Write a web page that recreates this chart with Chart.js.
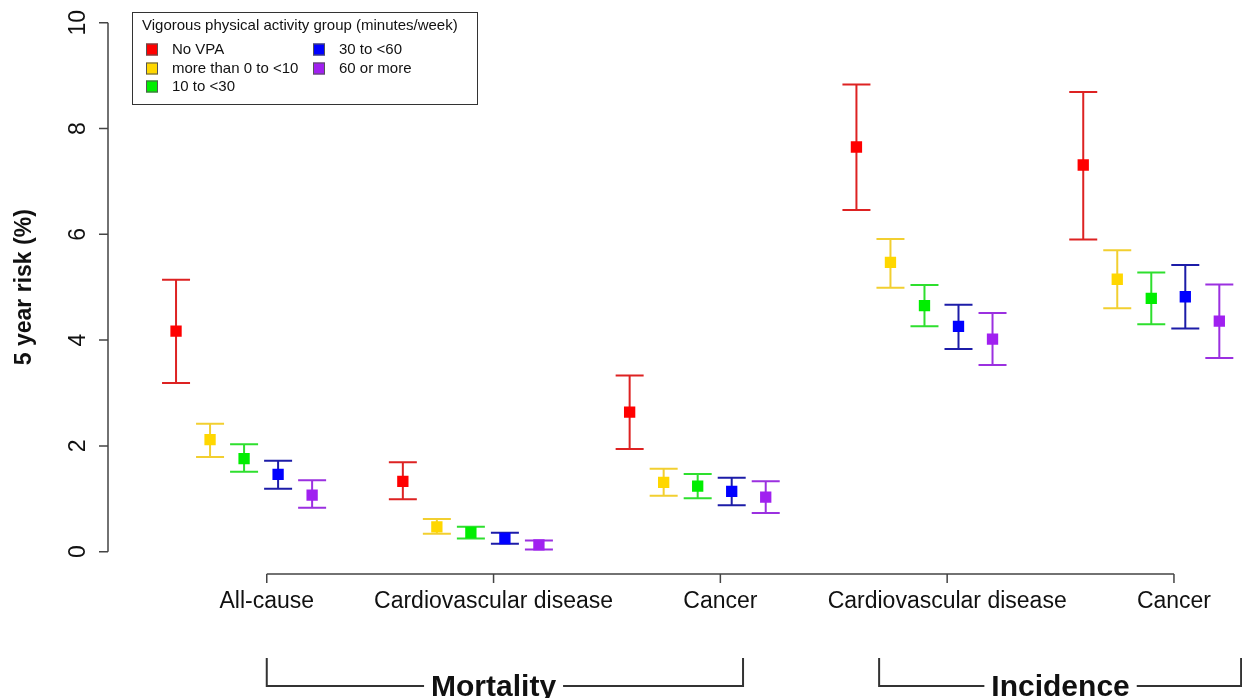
<!DOCTYPE html>
<html>
<head>
<meta charset="utf-8">
<title>5 year risk by vigorous physical activity group</title>
<script src="https://cdn.jsdelivr.net/npm/chart.js@4.4.1/dist/chart.umd.min.js"></script>
<style>
    html, body { margin: 0; padding: 0; background: #fff; }
    #risk { display: block; }
</style>
</head>
<body>
<canvas id="risk" width="1242" height="698"></canvas>
<script>
const causes = ['All-cause', 'Cardiovascular disease', 'Cancer', 'Cardiovascular disease', 'Cancer']
const outcomes = ['Mortality', 'Incidence']
const vpaGroups = ['No VPA', 'more than 0 to <10', '10 to <30', '30 to <60', '60 or more']
const yTicks = [0, 2, 4, 6, 8, 10]

// one row per VPA group, one value per cause (same order as causes)
const riskEstimate = [
    [4.17, 1.33, 2.64, 7.65, 7.31],
    [2.12, 0.47, 1.31, 5.47, 5.15],
    [1.76, 0.36, 1.24, 4.65, 4.79],
    [1.46, 0.25, 1.14, 4.26, 4.82],
    [1.07, 0.13, 1.03, 4.02, 4.36]
]
const riskLower = [
    [3.19, 0.99, 1.94, 6.46, 5.90],
    [1.79, 0.34, 1.06, 4.99, 4.60],
    [1.51, 0.25, 1.01, 4.26, 4.30],
    [1.19, 0.15, 0.88, 3.83, 4.22],
    [0.83, 0.04, 0.73, 3.53, 3.66]
]
const riskUpper = [
    [5.14, 1.69, 3.33, 8.83, 8.69],
    [2.42, 0.62, 1.57, 5.91, 5.70],
    [2.03, 0.47, 1.47, 5.04, 5.28],
    [1.72, 0.36, 1.40, 4.67, 5.42],
    [1.35, 0.21, 1.33, 4.51, 5.05]
]

const pointColors = ['#ff0000', '#ffd700', '#00ee00', '#0000ff', '#a020f0']
const barColors = ['#dd2222', '#f2cf30', '#2edf2e', '#1c1ca8', '#9b30e0']
const groupOffsets = [-0.4, -0.25, -0.1, 0.05, 0.2]
const font = "'Liberation Sans', Arial, sans-serif"
const axisColor = '#444'
const textColor = '#111'

const canvas = document.querySelector('#risk')
const ctx = canvas.getContext('2d')

function errorBars(chart) {
    const xs = chart.scales.x
    const ys = chart.scales.y
    const c = chart.ctx
    c.save()
    c.lineWidth = 2
    for (let k = 0; k < vpaGroups.length; k++) {
        c.strokeStyle = barColors[k]
        for (let g = 0; g < causes.length; g++) {
            const x = xs.getPixelForValue(g + 1 + groupOffsets[k])
            const lo = ys.getPixelForValue(riskLower[k][g])
            const hi = ys.getPixelForValue(riskUpper[k][g])
            c.beginPath()
            c.moveTo(x, lo); c.lineTo(x, hi)
            c.moveTo(x - 14, lo); c.lineTo(x + 14, lo)
            c.moveTo(x - 14, hi); c.lineTo(x + 14, hi)
            c.stroke()
        }
    }
    c.restore()
}

function drawAxes(chart) {
    const xs = chart.scales.x
    const ys = chart.scales.y
    const c = chart.ctx
    const left = chart.chartArea.left
    c.save()
    c.strokeStyle = axisColor
    c.lineWidth = 1.5
    c.fillStyle = textColor

    // y axis, R style: line only over the tick range, labels turned
    c.beginPath()
    c.moveTo(left, ys.getPixelForValue(yTicks[0]))
    c.lineTo(left, ys.getPixelForValue(yTicks[yTicks.length - 1]))
    yTicks.forEach(t => {
        const y = ys.getPixelForValue(t)
        c.moveTo(left - 9, y); c.lineTo(left, y)
    })
    c.stroke()
    c.font = `23px ${font}`
    c.textAlign = 'center'
    c.textBaseline = 'middle'
    yTicks.forEach(t => {
        c.save()
        c.translate(left - 30, ys.getPixelForValue(t))
        c.rotate(-Math.PI / 2)
        c.fillText(String(t), 0, 1)
        c.restore()
    })
    c.save()
    c.font = `bold 23px ${font}`
    c.translate(25, ys.getPixelForValue(5))
    c.rotate(-Math.PI / 2)
    c.fillText('5 year risk (%)', 0, 0)
    c.restore()

    // x axis over the five causes
    const axisY = 574
    c.beginPath()
    c.moveTo(xs.getPixelForValue(1), axisY)
    c.lineTo(xs.getPixelForValue(causes.length), axisY)
    causes.forEach((name, i) => {
        const x = xs.getPixelForValue(i + 1)
        c.moveTo(x, axisY); c.lineTo(x, axisY + 9)
    })
    c.stroke()
    c.textBaseline = 'alphabetic'
    c.font = `23px ${font}`
    causes.forEach((name, i) => {
        c.fillText(name, xs.getPixelForValue(i + 1), 608)
    })

    // outcome brackets
    const brackets = [
        {label: outcomes[0], from: 1, to: 3.1, mid: 2},
        {label: outcomes[1], from: 3.7, to: 5.296, mid: 4.5}
    ]
    c.font = `bold 30px ${font}`
    c.lineWidth = 2
    c.strokeStyle = '#333'
    brackets.forEach(b => {
        const x0 = xs.getPixelForValue(b.from)
        const x1 = xs.getPixelForValue(b.to)
        const xm = xs.getPixelForValue(b.mid)
        const half = c.measureText(b.label).width / 2 + 7
        c.beginPath()
        c.moveTo(x0, 658); c.lineTo(x0, 686); c.lineTo(xm - half, 686)
        c.moveTo(xm + half, 686); c.lineTo(x1, 686); c.lineTo(x1, 658)
        c.stroke()
        c.fillText(b.label, xm, 696)
    })
    c.restore()
}

function drawLegend(chart) {
    const c = chart.ctx
    c.save()
    c.strokeStyle = '#333'
    c.lineWidth = 1
    c.strokeRect(132.5, 12.5, 345, 92)
    c.fillStyle = textColor
    c.font = `15px ${font}`
    c.textAlign = 'left'
    c.textBaseline = 'middle'
    c.fillText('Vigorous physical activity group (minutes/week)', 142, 26)
    const rows = [49, 68, 86]
    vpaGroups.forEach((name, i) => {
        const col = i < 3 ? 0 : 1
        const y = rows[col === 0 ? i : i - 3]
        const mx = col === 0 ? 146 : 313
        c.fillStyle = pointColors[i]
        c.fillRect(mx, y - 5.5, 12, 12)
        c.strokeStyle = '#555'
        c.strokeRect(mx + 0.5, y - 5, 11, 11)
        c.fillStyle = textColor
        c.fillText(name, col === 0 ? 172 : 339, y + 1)
    })
    c.restore()
}

const riskPlot = {
    id: 'riskPlot',
    beforeDatasetsDraw: errorBars,
    afterDraw(chart) {
        drawAxes(chart)
        drawLegend(chart)
    }
}

const datasets = vpaGroups.map((name, k) => ({
    label: name,
    data: causes.map((cause, g) => ({x: g + 1 + groupOffsets[k], y: riskEstimate[k][g]})),
    showLine: false,
    pointStyle: 'rect',
    pointRadius: 8,
    pointHoverRadius: 8,
    pointBorderWidth: 0,
    pointBackgroundColor: pointColors[k],
    backgroundColor: pointColors[k]
}))

new Chart(ctx, {
    type: 'scatter',
    data: {datasets: datasets},
    options: {
        responsive: false,
        animation: false,
        devicePixelRatio: 1,
        layout: {autoPadding: false, padding: {left: 108, right: 0, top: 22.7, bottom: 146.3}},
        scales: {
            x: {type: 'linear', min: 0.3, max: 5.3, display: false},
            y: {type: 'linear', min: 0, max: 10, display: false}
        },
        plugins: {
            legend: {display: false},
            tooltip: {enabled: false}
        }
    },
    plugins: [riskPlot]
})
</script>
</body>
</html>
